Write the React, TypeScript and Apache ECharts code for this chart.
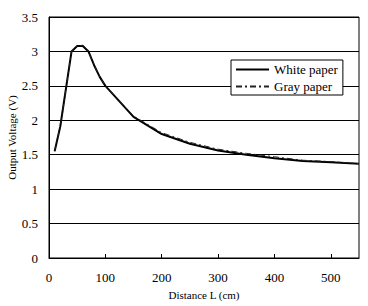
import React, { useEffect, useRef } from "react";
import * as echarts from "echarts";

const distance = [10, 20, 40, 50, 60, 70, 80, 90, 100, 150, 200, 250, 300, 350, 400, 450, 500, 550];
const whitePaper = [1.55, 1.91, 3.0, 3.08, 3.08, 3.0, 2.8, 2.63, 2.5, 2.05, 1.8, 1.66, 1.56, 1.5, 1.45, 1.41, 1.39, 1.37];
const grayPaper = [1.55, 1.91, 3.0, 3.08, 3.09, 3.0, 2.8, 2.63, 2.5, 2.06, 1.82, 1.68, 1.58, 1.52, 1.47, 1.42, 1.4, 1.37];
const seriesNames = ["White paper", "Gray paper"];

const FONT = "'Liberation Serif', 'DejaVu Serif', serif";

export default function App() {
  const ref = useRef<HTMLDivElement>(null);
  useEffect(() => {
    if (!ref.current) return;
    const chart = echarts.init(ref.current, undefined, { renderer: "svg" });
    chart.setOption({
      animation: false,
      backgroundColor: "#ffffff",
      grid: {
        left: 49, right: 9, top: 17, bottom: 48,
        show: true, borderColor: "#000", borderWidth: 1, backgroundColor: "transparent",
        containLabel: false, outerBoundsMode: "none",
      },
      legend: {
        orient: "vertical",
        left: 231,
        top: 60,
        backgroundColor: "#fff",
        borderColor: "#000",
        borderWidth: 1,
        padding: [3, 5, 2, 4],
        itemGap: 4,
        itemWidth: 33,
        itemHeight: 14,
        itemStyle: { color: "transparent", borderColor: "transparent", borderWidth: 0 },
        textStyle: { fontFamily: FONT, fontSize: 13, color: "#000" },
        data: seriesNames,
      },
      xAxis: {
        type: "value",
        min: 0,
        max: 550,
        interval: 100,
        name: "Distance L (cm)",
        nameLocation: "middle",
        nameGap: 31,
        nameMoveOverlap: false,
        nameTextStyle: { fontFamily: FONT, fontSize: 11, color: "#000" },
        axisLine: { show: true, lineStyle: { color: "#000", width: 1 } },
        axisTick: { show: true, inside: true, length: 4, lineStyle: { color: "#000" } },
        axisLabel: { fontFamily: FONT, fontSize: 13, color: "#000", margin: 13, showMaxLabel: false },
        splitLine: { show: false },
      },
      yAxis: {
        type: "value",
        min: 0,
        max: 3.5,
        interval: 0.5,
        name: "Output Voltage (V)",
        nameLocation: "middle",
        nameGap: 32,
        nameMoveOverlap: false,
        nameTextStyle: { fontFamily: FONT, fontSize: 11, color: "#000" },
        axisLine: { show: true, lineStyle: { color: "#000", width: 1 } },
        axisTick: { show: false },
        axisLabel: { fontFamily: FONT, fontSize: 13, color: "#000", margin: 11 },
        splitLine: { show: true, lineStyle: { color: "#000", width: 1 } },
      },
      series: [
        {
          name: seriesNames[0],
          type: "line",
          symbol: "none",
          data: distance.map((d, i) => [d, whitePaper[i]]),
          lineStyle: { color: "#000", width: 2 },
          itemStyle: { color: "#000" },
          z: 3,
        },
        {
          name: seriesNames[1],
          type: "line",
          symbol: "none",
          data: distance.map((d, i) => [d, grayPaper[i]]),
          lineStyle: { color: "#222", width: 1, type: [6, 3, 2, 3] },
          itemStyle: { color: "#000" },
          z: 4,
        },
      ],
    });
    return () => chart.dispose();
  }, []);
  return <div ref={ref} style={{ width: 368, height: 306, position: "absolute", left: 0, top: 0 }} />;
}
